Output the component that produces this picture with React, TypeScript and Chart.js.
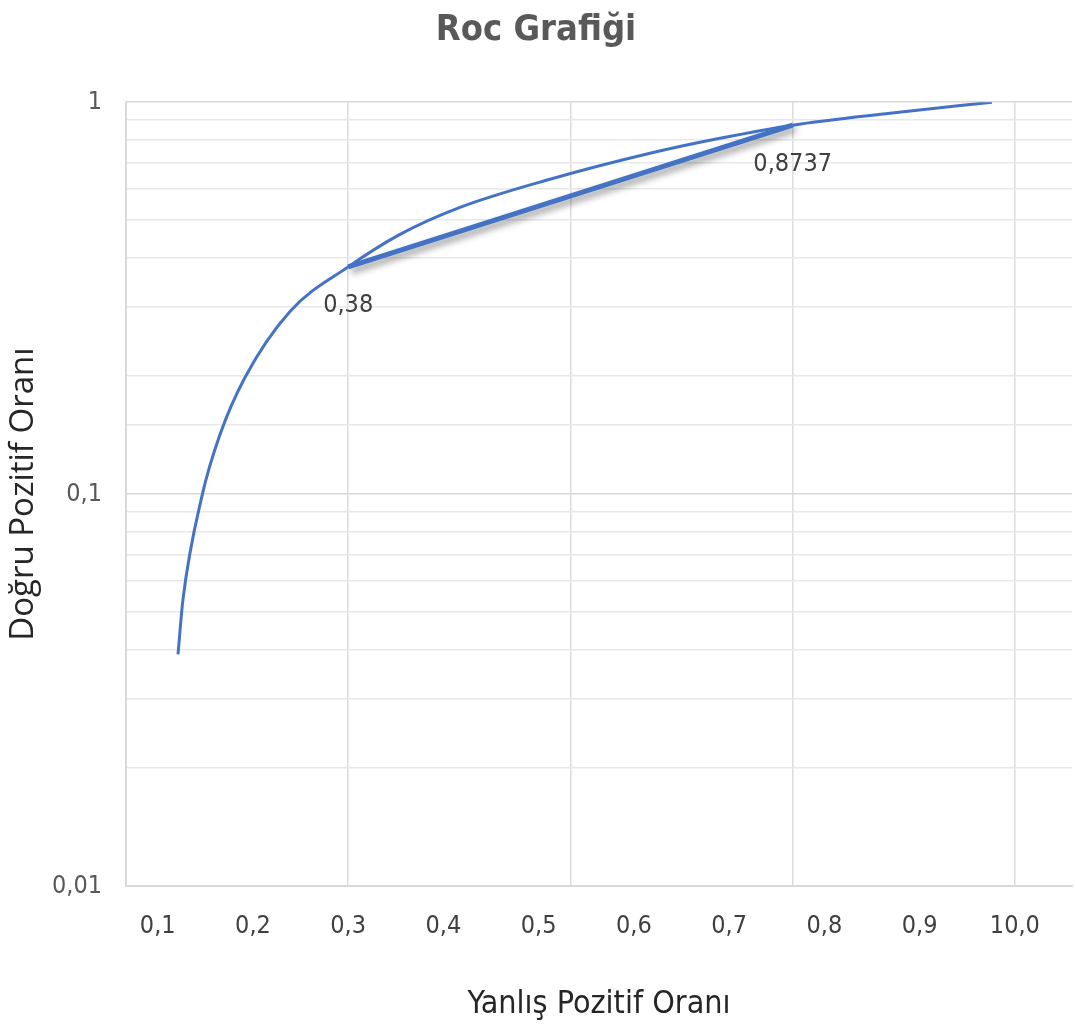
import React, { useEffect, useRef } from 'react';
import { Chart, registerables } from 'chart.js';

Chart.register(...registerables);

const chartTitle = 'Roc Grafiği';
const xAxisTitle = 'Yanlış Pozitif Oranı';
const yAxisTitle = 'Doğru Pozitif Oranı';

// ROC curve (false positive rate -> true positive rate)
const curveFpr = [0.1213, 0.1265, 0.1465, 0.1654, 0.1916, 0.2389, 0.3, 0.3544, 0.4174, 0.5119, 0.6169, 0.6904, 0.7667, 0.8689, 0.976];
const curveTpr = [0.039, 0.0538, 0.099, 0.1419, 0.1984, 0.2925, 0.38, 0.46, 0.539, 0.636, 0.741, 0.809, 0.8737, 0.937, 1.0];

// straight segment between the two marked points
const markFpr = [0.3, 0.7667];
const markTpr = [0.38, 0.8737];

const xMin = 0.0667;
const xMax = 1.06;
const xTickValues = [0.1, 0.2, 0.3, 0.4, 0.5, 0.6, 0.7, 0.8, 0.9, 1.0];
const xTickLabels = ['0,1', '0,2', '0,3', '0,4', '0,5', '0,6', '0,7', '0,8', '0,9', '10,0'];
const xGridValues = [0.3, 0.5333, 0.7667, 1.0];

const yMin = 0.01;
const yMax = 1;
const yTickValues = [0.01, 0.1, 1];
const yTickLabels = ['0,01', '0,1', '1'];

const NARROW = "'Liberation Sans Narrow', 'DejaVu Sans Condensed', 'Open Sans', sans-serif";
const BLUE = '#4472C4';

const shadowPlugin = {
  id: 'segmentShadow',
  beforeDatasetDraw(chart: any, args: any) {
    if (args.index !== 1) return;
    const ctx = chart.ctx;
    ctx.save();
    ctx.shadowColor = 'rgba(0,0,0,0.45)';
    ctx.shadowBlur = 7;
    ctx.shadowOffsetX = 3;
    ctx.shadowOffsetY = 4;
  },
  afterDatasetDraw(chart: any, args: any) {
    if (args.index !== 1) return;
    chart.ctx.restore();
  },
};

const labelPlugin = {
  id: 'pointLabels',
  afterDatasetsDraw(chart: any) {
    const meta = chart.getDatasetMeta(1);
    const ds = chart.data.datasets[1];
    const ctx = chart.ctx;
    ctx.save();
    ctx.font = `25px ${NARROW}`;
    ctx.fillStyle = '#404040';
    ctx.textAlign = 'center';
    ctx.textBaseline = 'middle';
    meta.data.forEach((pt: any, i: number) => {
      const v = ds.data[i].y;
      ctx.fillText(String(v).replace('.', ','), pt.x, pt.y + 39);
    });
    ctx.restore();
  },
};

export default function App() {
  const ref = useRef<HTMLCanvasElement>(null);

  useEffect(() => {
    if (!ref.current) return;
    const chart = new Chart(ref.current, {
      type: 'line',
      data: {
        datasets: [
          {
            data: curveFpr.map((x, i) => ({ x, y: curveTpr[i] })),
            borderColor: BLUE,
            borderWidth: 3,
            pointRadius: 0,
            cubicInterpolationMode: 'monotone',
            fill: false,
          },
          {
            data: markFpr.map((x, i) => ({ x, y: markTpr[i] })),
            borderColor: BLUE,
            borderWidth: 5,
            pointRadius: 0,
            fill: false,
          },
        ],
      },
      options: {
        responsive: false,
        animation: false,
        layout: { padding: { left: 0, right: 3, top: 0, bottom: 0 } },
        plugins: {
          legend: { display: false },
          tooltip: { enabled: false },
          title: {
            display: true,
            text: chartTitle,
            color: '#595959',
            font: { family: NARROW, size: 36, weight: 'bold' },
            padding: { top: 9, bottom: 50 },
          },
        },
        scales: {
          x: {
            type: 'linear',
            position: 'bottom',
            min: xMin,
            max: xMax,
            afterBuildTicks: (s: any) => {
              s.ticks = xTickValues.map((v) => ({ value: v }));
            },
            ticks: {
              autoSkip: false,
              maxRotation: 0,
              minRotation: 0,
              padding: 25,
              color: '#404040',
              font: { family: NARROW, size: 25 },
              callback: (_v: any, i: number) => xTickLabels[i],
            },
            grid: { display: false, drawTicks: false },
            border: { display: true, color: '#d9d9d9', width: 2 },
            title: {
              display: true,
              text: xAxisTitle,
              color: '#262626',
              font: { family: NARROW, size: 32 },
              padding: { top: 0, bottom: 12 },
            },
            afterFit: (s: any) => {
              s.height = 150;
            },
          },
          xGrid: {
            type: 'linear',
            position: 'top',
            min: xMin,
            max: xMax,
            afterBuildTicks: (s: any) => {
              s.ticks = xGridValues.map((v) => ({ value: v }));
            },
            ticks: { display: false },
            grid: { color: '#dcdcdc', drawTicks: false, lineWidth: 1.5 },
            border: { display: false },
            afterFit: (s: any) => {
              s.height = 0;
            },
          },
          y: {
            type: 'logarithmic',
            min: yMin,
            max: yMax,
            ticks: {
              autoSkip: false,
              padding: 24,
              color: '#595959',
              font: { family: NARROW, size: 25 },
              callback: (v: any) => {
                const i = yTickValues.findIndex((t) => Math.abs(Number(v) / t - 1) < 1e-6);
                return i >= 0 ? yTickLabels[i] : '';
              },
            },
            grid: {
              drawTicks: false,
              color: (c: any) => {
                const v = c.tick ? c.tick.value : 0;
                return yTickValues.some((t) => Math.abs(v / t - 1) < 1e-6) ? '#d9d9d9' : '#e8e8e8';
              },
              lineWidth: 1.5,
            },
            border: { display: true, color: '#d9d9d9', width: 2 },
            title: {
              display: true,
              text: yAxisTitle,
              color: '#262626',
              font: { family: "'Open Sans', sans-serif", size: 33 },
              padding: { top: 4, bottom: 0 },
            },
            afterFit: (s: any) => {
              s.width = 126;
            },
          },
        },
      } as any,
      plugins: [shadowPlugin, labelPlugin],
    });
    return () => chart.destroy();
  }, []);

  return (
    <canvas
      ref={ref}
      width={1075}
      height={1036}
      style={{ position: 'absolute', left: 0, top: 0, display: 'block', background: '#ffffff' }}
    />
  );
}
